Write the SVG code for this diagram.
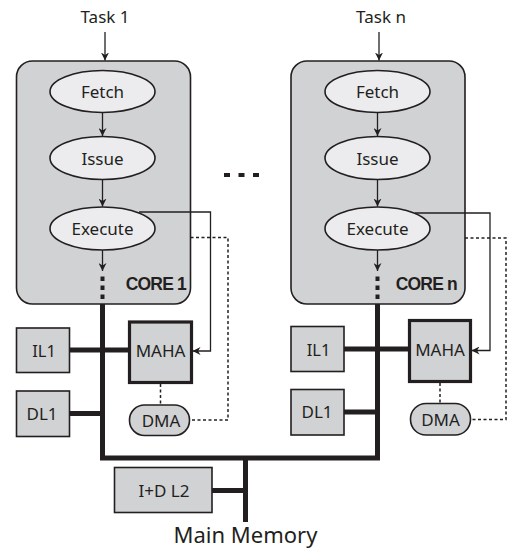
<svg xmlns="http://www.w3.org/2000/svg" width="508" height="548" viewBox="0 0 508 548">
<defs>
<marker id="ah" viewBox="0 0 10 10" refX="10" refY="5" markerWidth="8" markerHeight="8" markerUnits="userSpaceOnUse" orient="auto">
<path d="M0,0 L10,5 L0,10 L3,5 z" fill="#231f20"/>
</marker>
</defs>
<style>
text{font-family:"Noto Sans","Liberation Sans",sans-serif;fill:#231f20;text-anchor:middle}
.core{fill:#d1d2d4;stroke:#231f20;stroke-width:1.6}
.ell{fill:#ececee;stroke:#231f20;stroke-width:1.6}
.box{fill:#d1d2d4;stroke:#231f20;stroke-width:1.6}
.maha{fill:#d1d2d4;stroke:#231f20;stroke-width:3.2}
.lbl{font-size:17px}
.small{font-size:16.5px}
.corelbl{font-family:"Liberation Sans",sans-serif;font-weight:bold;font-size:17.5px;letter-spacing:-0.8px;text-anchor:end}
.arr{fill:none;stroke:#231f20;stroke-width:1.3;marker-end:url(#ah)}
.dot{fill:none;stroke:#231f20;stroke-width:1.5;stroke-dasharray:3 2.5}
.bus{fill:none;stroke:#231f20;stroke-width:5}
.dash4{fill:none;stroke:#231f20;stroke-width:4;stroke-dasharray:4.5 4.5}
</style>

<g id="task1"><text x="105" y="22.5" style="font-size:17px">Task 1</text></g>
<g id="taskn"><text x="381" y="22.5" style="font-size:17px">Task n</text></g>

<g id="core1">
<rect x="16.5" y="61" width="174" height="243" rx="16" class="core"/>
<text x="186" y="289.5" class="corelbl">CORE 1</text>
</g>
<g id="coren">
<rect x="291" y="61" width="174" height="243" rx="16" class="core"/>
<text x="457" y="289.5" class="corelbl">CORE n</text>
</g>

<g id="fetch1"><ellipse cx="102.5" cy="91.5" rx="52.5" ry="21" class="ell"/><text x="102.5" y="98" class="lbl">Fetch</text></g>
<g id="issue1"><ellipse cx="102.5" cy="158" rx="52.5" ry="21.5" class="ell"/><text x="102.5" y="164.5" class="lbl">Issue</text></g>
<g id="execute1"><ellipse cx="102.5" cy="228.5" rx="52.5" ry="21.5" class="ell"/><text x="102.5" y="235" class="lbl">Execute</text></g>

<g id="fetchn"><ellipse cx="377.5" cy="91.5" rx="52.5" ry="21" class="ell"/><text x="377.5" y="98" class="lbl">Fetch</text></g>
<g id="issuen"><ellipse cx="377.5" cy="158" rx="52.5" ry="21.5" class="ell"/><text x="377.5" y="164.5" class="lbl">Issue</text></g>
<g id="executen"><ellipse cx="377.5" cy="228.5" rx="52.5" ry="21.5" class="ell"/><text x="377.5" y="235" class="lbl">Execute</text></g>

<g id="il1_1"><rect x="16.5" y="328" width="53" height="44.5" class="box"/><text x="44" y="357" class="small">IL1</text></g>
<g id="dl1_1"><rect x="16.5" y="391" width="53" height="45.5" class="box"/><text x="42" y="419.5" class="lbl">DL1</text></g>
<g id="maha1"><rect x="129.5" y="322" width="62" height="60.5" class="maha"/><text x="160.5" y="357" class="lbl">MAHA</text></g>
<g id="dma1"><rect x="129.5" y="405" width="60" height="30.5" rx="15" class="box"/><text x="161" y="427" class="lbl">DMA</text></g>

<g id="il1_n"><rect x="291" y="326.5" width="53" height="45" class="box"/><text x="318.5" y="355.5" class="small">IL1</text></g>
<g id="dl1_n"><rect x="291" y="389.5" width="53" height="45.5" class="box"/><text x="317" y="418" class="lbl">DL1</text></g>
<g id="mahan"><rect x="409.5" y="320.5" width="61" height="61" class="maha"/><text x="440" y="355.5" class="lbl">MAHA</text></g>
<g id="dman"><rect x="410.5" y="403.5" width="60" height="31.5" rx="15.5" class="box"/><text x="440.5" y="426" class="lbl">DMA</text></g>

<g id="l2"><rect x="114.5" y="467.5" width="97.5" height="45" class="box"/><text x="164" y="496.5" class="lbl">I+D L2</text></g>
<g id="mainmem"><text x="245.5" y="543" style="font-size:22px">Main Memory</text></g>

<g id="ellipsis"><path d="M224 175 H259.5" fill="none" stroke="#231f20" stroke-width="4" stroke-dasharray="6 8.5"/></g>

<g id="connectors">
<path d="M105 32 V60.5" class="arr"/>
<path d="M379 32 V60.5" class="arr"/>
<path d="M102.5 112.5 V136" class="arr"/>
<path d="M102.5 179.5 V206.5" class="arr"/>
<path d="M102.5 250 V271" class="arr"/>
<path d="M377.5 112.5 V136" class="arr"/>
<path d="M377.5 179.5 V206.5" class="arr"/>
<path d="M377.5 250 V271" class="arr"/>
<path d="M102.5 276.5 V300" class="dash4"/>
<path d="M377.5 276.5 V300" class="dash4"/>
<path d="M139 212 H210.5 V351 H192.5" class="arr"/>
<path d="M415 213 H490 V350.5 H471.5" class="arr"/>
<path d="M190.5 237.5 H228 V420 H190" class="dot"/>
<path d="M465 238 H506 V419.5 H471" class="dot"/>
<path d="M160.5 384 V405" class="dot"/>
<path d="M440 383 V403.5" class="dot"/>
<path d="M102.5 304 V458 H377.5 V304" class="bus" stroke-linejoin="miter"/>
<path d="M69.5 350 H129.5" class="bus" stroke-width="5.5"/>
<path d="M69.5 413.5 H102.5" class="bus" stroke-width="5.5"/>
<path d="M344 349 H409.5" class="bus" stroke-width="5.5"/>
<path d="M344 412 H377.5" class="bus" stroke-width="5.5"/>
<path d="M245.5 458 V522" class="bus" stroke-width="4.5"/>
<path d="M212 490.5 H245.5" class="bus" stroke-width="5"/>
</g>
</svg>
